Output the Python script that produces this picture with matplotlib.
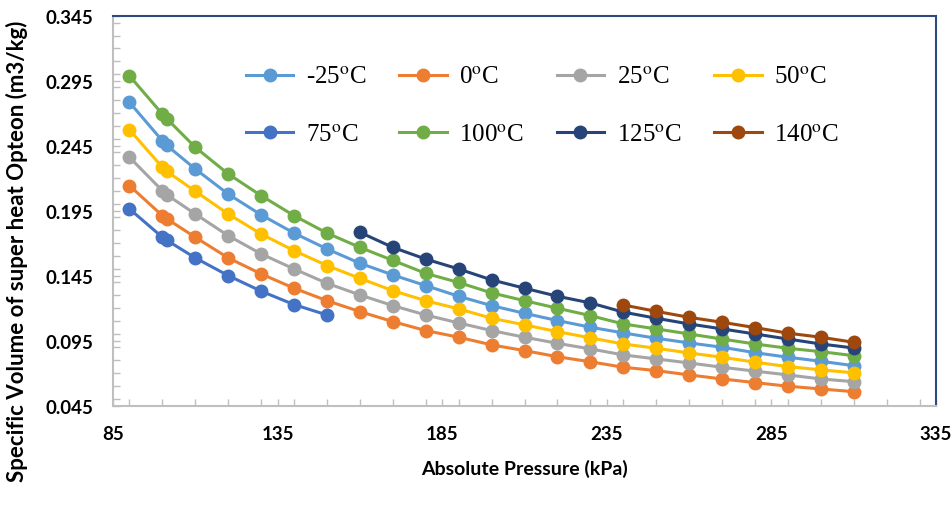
import matplotlib.pyplot as plt
from matplotlib.ticker import MultipleLocator, FormatStrFormatter

plt.rcParams['mathtext.fontset'] = 'stix'

# absolute pressure (kPa), shared by all series
pressure = [90, 100, 101.325, 110, 120, 130, 140, 150, 160, 170, 180, 190,
            200, 210, 220, 230, 240, 250, 260, 270, 280, 290, 300, 310]

# specific volume (m3/kg)
v_m25 = [0.2786, 0.2490, 0.2455, 0.2273, 0.2080, 0.1920, 0.1780, 0.1658,
         0.1548, 0.1458, 0.1376, 0.1294, 0.1222, 0.1163, 0.1107, 0.1056,
         0.1012, 0.0971, 0.0935, 0.0902, 0.0860, 0.0825, 0.0794, 0.0760]
v_0 = [0.2145, 0.1914, 0.1890, 0.1748, 0.1589, 0.1466, 0.1356, 0.1260,
       0.1176, 0.1099, 0.1030, 0.0979, 0.0920, 0.0876, 0.0829, 0.0790,
       0.0748, 0.0722, 0.0689, 0.0658, 0.0630, 0.0602, 0.0581, 0.0560]
v_25 = [0.2363, 0.2106, 0.2075, 0.1927, 0.1760, 0.1620, 0.1504, 0.1394,
        0.1304, 0.1222, 0.1150, 0.1089, 0.1030, 0.0979, 0.0932, 0.0889,
        0.0843, 0.0812, 0.0781, 0.0748, 0.0718, 0.0689, 0.0658, 0.0637]
v_50 = [0.2575, 0.2286, 0.2255, 0.2102, 0.1927, 0.1773, 0.1645, 0.1530,
        0.1432, 0.1337, 0.1260, 0.1197, 0.1125, 0.1074, 0.1022, 0.0974,
        0.0927, 0.0894, 0.0858, 0.0825, 0.0787, 0.0753, 0.0728, 0.0705]
v_75 = [0.1966, 0.1748, 0.1725, 0.1589, 0.1453, 0.1333, 0.1230, 0.1150]
v_100 = [0.2990, 0.2695, 0.2660, 0.2440, 0.2235, 0.2068, 0.1914, 0.1780,
         0.1670, 0.1570, 0.1470, 0.1400, 0.1320, 0.1260, 0.1202, 0.1145,
         0.1081, 0.1043, 0.1004, 0.0965, 0.0927, 0.0894, 0.0868, 0.0837]
v_125 = [0.1786, 0.1670, 0.1580, 0.1504, 0.1420, 0.1356, 0.1294, 0.1243,
         0.1172, 0.1125, 0.1081, 0.1043, 0.1004, 0.0965, 0.0927, 0.0896]
v_140 = [0.1227, 0.1178, 0.1132, 0.1094, 0.1053, 0.1010, 0.0979, 0.0940]

labels = ['-25', '0', '25', '50', '75', '100', '125', '140']
colors = ['#5B9BD5', '#ED7D31', '#A5A5A5', '#FFC000',
          '#4472C4', '#70AD47', '#264478', '#9E480E']
series = [(pressure, v_m25), (pressure, v_0), (pressure, v_25),
          (pressure, v_50), (pressure[:8], v_75), (pressure, v_100),
          (pressure[8:], v_125), (pressure[16:], v_140)]

fig = plt.figure(figsize=(9.52, 5.06), dpi=100)
ax = fig.add_axes([0.1187, 0.1957, 0.8645, 0.7707])

handles = []
for (x, y), lab, c in zip(series, labels, colors):
    h, = ax.plot(x, y, color=c, lw=2.2, marker='o', markersize=9,
                 label=lab + r'$^{\mathrm{o}}$C')
    handles.append(h)

ax.set_xlim(85, 335)
ax.set_ylim(0.045, 0.345)
ax.xaxis.set_minor_locator(MultipleLocator(10))
ax.yaxis.set_minor_locator(MultipleLocator(0.01))
ax.yaxis.set_major_formatter(FormatStrFormatter('%.3f'))
ax.set_xticks([85, 135, 185, 235, 285, 335])
ax.set_yticks([0.045, 0.095, 0.145, 0.195, 0.245, 0.295, 0.345])

ax.tick_params(which='both', direction='in', length=5, width=1,
               color='#BFBFBF')
ax.tick_params(axis='y', which='major', pad=14)
ax.tick_params(axis='x', which='major', pad=14)
for t in ax.get_xticklabels() + ax.get_yticklabels():
    t.set_fontfamily('Lato')
    t.set_fontweight('bold')
    t.set_fontsize(13.5)

for s in ['left', 'bottom']:
    ax.spines[s].set_color('#BFBFBF')
    ax.spines[s].set_linewidth(1.5)
for s in ['top', 'right']:
    ax.spines[s].set_color('#2F4A80')
    ax.spines[s].set_linewidth(1.5)

ax.set_xlabel('Absolute Pressure (kPa)', fontfamily='Lato',
              fontweight='bold', fontsize=14, labelpad=12)
ax.set_ylabel('Specific Volume of super heat Opteon (m3/kg)',
              fontfamily='Lato', fontweight='bold', fontsize=16)
ax.yaxis.set_label_coords(-0.1033, 0.40)

order = [0, 4, 1, 5, 2, 6, 3, 7]
leg = ax.legend([handles[i] for i in order],
                [handles[i].get_label() for i in order],
                ncol=4, frameon=False, loc='upper left',
                bbox_to_anchor=(0.134, 0.93), handlelength=1.9,
                labelspacing=1.4, columnspacing=1.3, handletextpad=0.5,
                prop={'family': 'Liberation Serif', 'size': 18})

fig.savefig('out.png', dpi=100)
